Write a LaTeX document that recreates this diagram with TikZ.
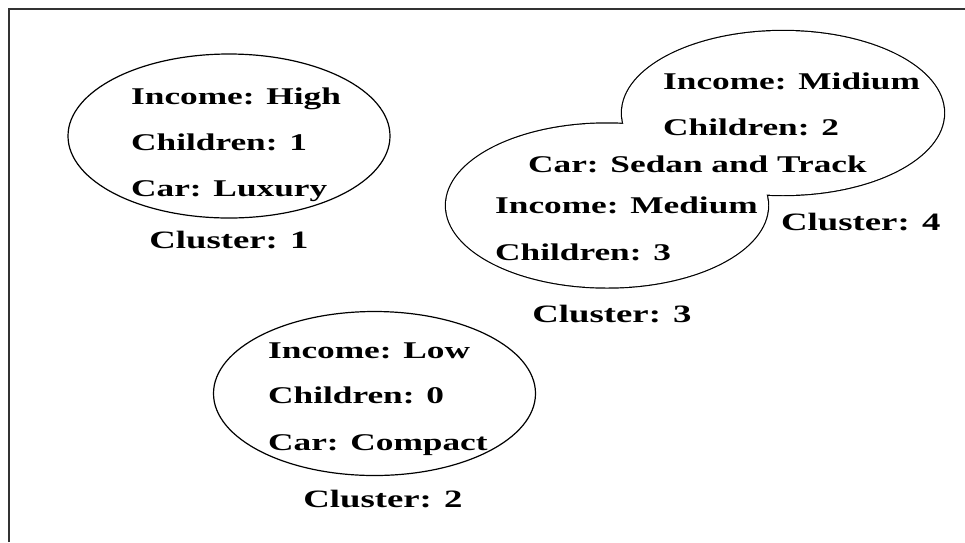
\documentclass[tikz,border=0pt]{standalone}
\usepackage{fontspec}
\setmainfont{Liberation Serif}[FakeStretch=1.47]
\usetikzlibrary{shapes.geometric}

\begin{document}
\begin{tikzpicture}[x=1pt,y=-1pt,
	blob/.style={ellipse,draw,line width=1.2pt,minimum width=322pt,minimum height=164pt,inner sep=0pt},
	attr/.style={anchor=base west,inner sep=0pt,font=\fontsize{24}{28}\selectfont\bfseries},
	lbl/.style={anchor=base,inner sep=0pt,font=\fontsize{25}{30}\selectfont\bfseries}]
	\useasboundingbox (0,0) rectangle (965,542);
	\draw[line width=2pt,black!80] (8.5,542) -- (8.5,8.5) -- (965,8.5);
	% single clusters
	\node[blob](c1) at (229,136){};
	\node[blob](c2) at (374.5,393.5){};
	% clusters 3 and 4 share one outline
	\node[blob,line width=2.4pt](c3) at (607,205.5){};
	\node[blob,line width=2.4pt](c4) at (783,113){};
	\node[blob,draw=none,fill=white](c3in) at (c3){};
	\node[blob,draw=none,fill=white](c4in) at (c4){};
	% cluster 1
	\node[attr](inc1) at (131,104){Income: High};
	\node[attr](kid1) at (131,150){Children: 1};
	\node[attr](car1) at (131,196){Car: Luxury};
	\node[lbl](cl1) at (229,248){Cluster: 1};
	% cluster 2
	\node[attr](inc2) at (268,358){Income: Low};
	\node[attr](kid2) at (268,403){Children: 0};
	\node[attr](car2) at (268,450){Car: Compact};
	\node[lbl](cl2) at (383,507){Cluster: 2};
	% cluster 4
	\node[attr](inc4) at (663,89){Income: Midium};
	\node[attr](kid4) at (663,135){Children: 2};
	\node[attr](car34) at (528,172){Car: Sedan and Track};
	\node[lbl,anchor=base west](cl4) at (781,230){Cluster: 4};
	% cluster 3
	\node[attr](inc3) at (495,213){Income: Medium};
	\node[attr](kid3) at (495,260){Children: 3};
	\node[lbl](cl3) at (612,322){Cluster: 3};
\end{tikzpicture}
\end{document}
